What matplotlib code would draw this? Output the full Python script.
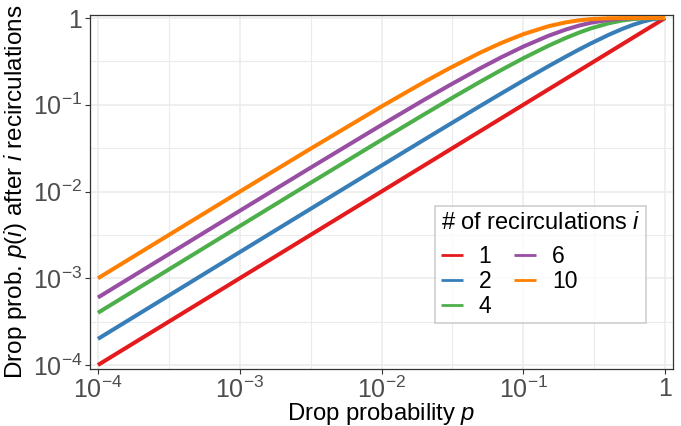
import math

import matplotlib
matplotlib.use("Agg")
import matplotlib.pyplot as plt
from matplotlib.ticker import FixedLocator, FuncFormatter, NullFormatter

plt.rcParams["font.family"] = ["Liberation Sans", "DejaVu Sans"]
plt.rcParams["mathtext.fontset"] = "custom"
plt.rcParams["mathtext.rm"] = "Liberation Sans"
plt.rcParams["mathtext.it"] = "Liberation Sans:italic"

# drop probability p (x) and p(i) for each i
p = [1e-4, 1e-3, 3e-3, 0.01, 0.02, 0.03, 0.05, 0.07, 0.1, 0.15, 0.2, 0.25,
     0.3, 0.4, 0.5, 0.6, 0.7, 0.8, 0.9, 1.0]
drop_1 = [1e-4, 1e-3, 3e-3, 0.01, 0.02, 0.03, 0.05, 0.07, 0.1, 0.15, 0.2, 0.25,
          0.3, 0.4, 0.5, 0.6, 0.7, 0.8, 0.9, 1.0]
drop_2 = [0.0002, 0.002, 0.00599, 0.0199, 0.0396, 0.0591, 0.0975, 0.1351, 0.19,
          0.2775, 0.36, 0.4375, 0.51, 0.64, 0.75, 0.84, 0.91, 0.96, 0.99, 1.0]
drop_4 = [0.0004, 0.003994, 0.01195, 0.0394, 0.0776, 0.1147, 0.1855, 0.2520,
          0.3439, 0.4780, 0.5904, 0.6836, 0.7599, 0.8704, 0.9375, 0.9744,
          0.9919, 0.9984, 0.9999, 1.0]
drop_6 = [0.0006, 0.00599, 0.01787, 0.0585, 0.1142, 0.1670, 0.2649, 0.3530,
          0.4686, 0.6229, 0.7379, 0.8220, 0.8824, 0.9533, 0.9844, 0.9959,
          0.9993, 0.99994, 1.0, 1.0]
drop_10 = [0.0009996, 0.00996, 0.0296, 0.0956, 0.1829, 0.2626, 0.4013, 0.5160,
           0.6513, 0.8031, 0.8926, 0.9437, 0.9718, 0.9940, 0.9990, 0.9999,
           1.0, 1.0, 1.0, 1.0]

labels = ["1", "2", "4", "6", "10"]
series = [drop_1, drop_2, drop_4, drop_6, drop_10]
colors = ["#E41A1C", "#377EB8", "#4DAF4A", "#984EA3", "#FF7F00"]

major = [1e-4, 1e-3, 1e-2, 1e-1, 1.0]
minor = [10 ** -3.5, 10 ** -2.5, 10 ** -1.5, 10 ** -0.5]


def fmt(v, pos):
    if abs(v - 1.0) < 1e-9:
        return "1"
    return r"$10^{%d}$" % int(round(math.log10(v)))


fig = plt.figure(figsize=(6.81, 4.26), dpi=100)
ax = fig.add_axes([90 / 681, 57 / 426, 583 / 681, 354 / 426])

for ys, lab, c in zip(series, labels, colors):
    ax.plot(p, ys, color=c, lw=2.9, label=lab, solid_capstyle="butt", zorder=3)

ax.set_xscale("log")
ax.set_yscale("log")
ax.set_xlim(10 ** -4.056, 10 ** 0.056)
ax.set_ylim(10 ** -4.046, 10 ** 0.035)

for axis in (ax.xaxis, ax.yaxis):
    axis.set_major_locator(FixedLocator(major))
    axis.set_minor_locator(FixedLocator(minor))
    axis.set_major_formatter(FuncFormatter(fmt))
    axis.set_minor_formatter(NullFormatter())

ax.grid(which="major", color="#ebebeb", lw=1.1, zorder=0)
ax.grid(which="minor", color="#ebebeb", lw=0.8, zorder=0)
ax.tick_params(which="major", length=3.5, width=0.8, color="#333333",
               labelsize=18, labelcolor="#4d4d4d", pad=2)
ax.tick_params(which="minor", length=0)
for s in ax.spines.values():
    s.set_color("#333333")
    s.set_linewidth(0.9)

ax.set_xlabel(r"Drop probability $p$", fontsize=17.2, labelpad=-1.5)
ax.set_ylabel(r"Drop prob. $p(i)$ after $i$ recirculations", fontsize=17.5, labelpad=3)

leg = ax.legend(title=r"# of recirculations $i$", ncol=2, loc="upper left",
                bbox_to_anchor=(0.592, 0.46), borderaxespad=0,
                fontsize=16.5, title_fontsize=17,
                frameon=True, fancybox=False, edgecolor="#c8c8c8",
                handlelength=0.95, handletextpad=0.7, columnspacing=1.0,
                labelspacing=0.08, borderpad=0.25)
leg.get_frame().set_linewidth(1.3)
leg._legend_box.align = "left"
leg._legend_box.sep = 8
for h in leg.get_lines():
    h.set_linewidth(2.0)

fig.savefig("out.png", dpi=100)
